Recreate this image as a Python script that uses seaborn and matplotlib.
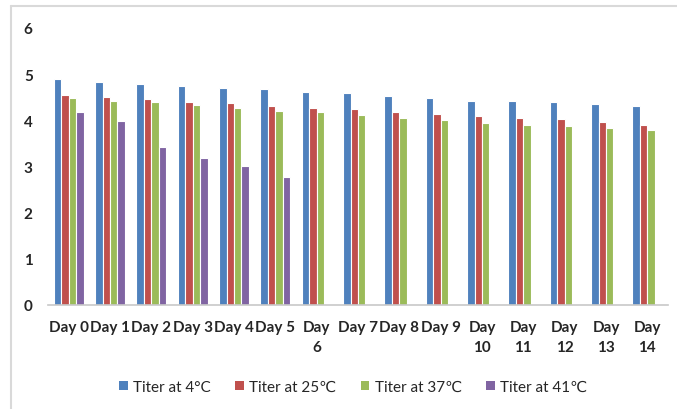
import numpy as np
import pandas as pd
import matplotlib
matplotlib.use("Agg")
import matplotlib.pyplot as plt
from matplotlib.lines import Line2D
from matplotlib.patches import Patch
import seaborn as sns

# Day labels (Excel-style wrapping on the narrower slots)
days = ["Day 0", "Day 1", "Day 2", "Day 3", "Day 4", "Day 5", "Day\n6",
        "Day 7", "Day 8", "Day 9", "Day\n10", "Day\n11", "Day\n12", "Day\n13", "Day\n14"]

series = ["Titer at 4°C", "Titer at 25℃", "Titer at 37℃", "Titer at 41℃"]

titer_4 = [4.89, 4.82, 4.78, 4.74, 4.70, 4.68, 4.62, 4.59, 4.53, 4.48, 4.42, 4.41, 4.39, 4.35, 4.31]
titer_25 = [4.54, 4.50, 4.46, 4.40, 4.37, 4.31, 4.27, 4.24, 4.19, 4.14, 4.09, 4.04, 4.02, 3.96, 3.90]
titer_37 = [4.48, 4.41, 4.39, 4.33, 4.27, 4.21, 4.17, 4.12, 4.06, 4.00, 3.94, 3.90, 3.88, 3.83, 3.78]
titer_41 = [4.17, 3.98, 3.43, 3.19, 3.02, 2.77] + [np.nan] * 9

colors = ["#4F81BD", "#C0504D", "#9BBB59", "#8064A2"]

rows = []
for name, vals in zip(series, [titer_4, titer_25, titer_37, titer_41]):
    for d, v in zip(days, vals):
        rows.append({"day": d, "series": name, "titer": v})
df = pd.DataFrame(rows)

sns.set_theme(style="white")
plt.rcParams["font.family"] = ["Lato", "DejaVu Sans"]

fig = plt.figure(figsize=(6.77, 4.10), dpi=100)
ax = fig.add_axes([48 / 677, 1 - 306 / 410, 620 / 677, 277 / 410])

sns.barplot(data=df, x="day", y="titer", hue="series", order=days,
            hue_order=series, palette=colors, width=0.72, saturation=1,
            edgecolor="white", linewidth=0.8, errorbar=None, ax=ax, legend=False)

ax.set_ylim(0, 6)
ax.set_xlim(-0.5, len(days) - 0.5)
ax.set_yticks(range(0, 7))
ax.set_xlabel("")
ax.set_ylabel("")
for s in ["top", "right", "left"]:
    ax.spines[s].set_visible(False)
ax.spines["bottom"].set_color("#c8c8c8")
ax.spines["bottom"].set_linewidth(1.2)
ax.tick_params(axis="both", length=0)
ax.tick_params(axis="y", pad=11)
ax.tick_params(axis="x", pad=11)
for lab in ax.get_yticklabels():
    lab.set_fontsize(11)
    lab.set_fontweight("bold")
for lab in ax.get_xticklabels():
    lab.set_fontsize(11)
    lab.set_fontweight("bold")
    lab.set_linespacing(1.55)

handles = [Patch(facecolor=c, edgecolor="none") for c in colors]
fig.legend(handles, series, loc="center", bbox_to_anchor=(0.522, 1 - 388 / 410),
           ncol=4, frameon=False, fontsize=11, handlelength=0.55, handleheight=0.55,
           handletextpad=0.35, columnspacing=1.6)

# chart-area frame
fig.add_artist(Line2D([11 / 677, 1.0], [1 - 7 / 410] * 2, color="#d9d9d9", lw=1.5))
fig.add_artist(Line2D([11 / 677] * 2, [0.0, 1 - 7 / 410], color="#d9d9d9", lw=1.5))

fig.savefig("out.png", dpi=100)
